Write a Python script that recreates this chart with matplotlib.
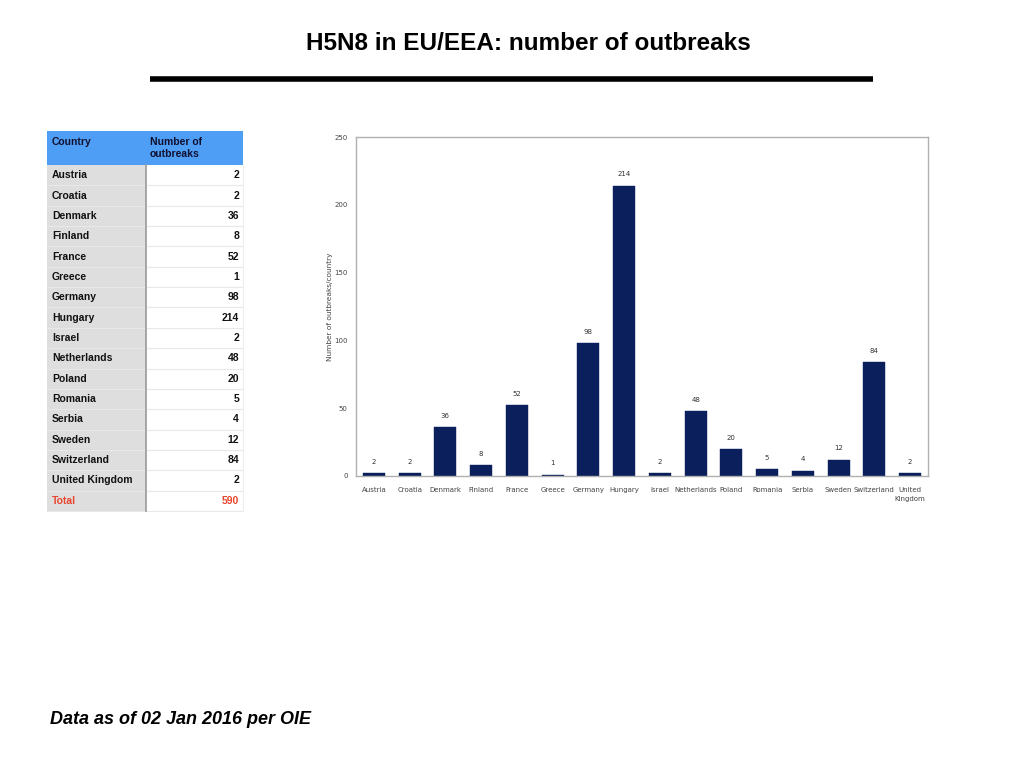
import matplotlib
matplotlib.use("Agg")
import matplotlib.pyplot as plt
from matplotlib.patches import Rectangle

countries = ["Austria", "Croatia", "Denmark", "Finland", "France", "Greece", "Germany",
             "Hungary", "Israel", "Netherlands", "Poland", "Romania", "Serbia", "Sweden",
             "Switzerland", "United Kingdom"]
outbreaks = [2, 2, 36, 8, 52, 1, 98, 214, 2, 48, 20, 5, 4, 12, 84, 2]
chart_labels = ["Austria", "Croatia", "Denmark", "Finland", "France", "Greece", "Germany",
                "Hungary", "Israel", "Netherlands", "Poland", "Romania", "Serbia", "Sweden",
                "Switzerland", "United\nKingdom"]
yticks = [0, 50, 100, 150, 200, 250]

W, H = 1024, 768
fig = plt.figure(figsize=(W / 100, H / 100), dpi=100)
fig.patch.set_facecolor("white")

# overlay axes in pixel coordinates
bg = fig.add_axes([0, 0, 1, 1])
bg.set_xlim(0, W)
bg.set_ylim(H, 0)
bg.axis("off")

font = "Liberation Sans"
bg.text(528, 44, "H5N8 in EU/EEA: number of outbreaks", ha="center", va="center",
        fontsize=17.5, fontweight="bold", family=font)
bg.plot([150, 873], [79, 79], color="black", lw=4, solid_capstyle="butt")
bg.text(50, 720, "Data as of 02 Jan 2016 per OIE", ha="left", va="center",
        fontsize=13, fontweight="bold", style="italic", family=font)

# table
tx0, tx1, tx2 = 47, 146, 243
hy0, hy1 = 131, 165
row_h = (511 - 165) / 17.0
bg.add_patch(Rectangle((tx0, hy0), tx2 - tx0, hy1 - hy0, facecolor="#4f9ef5", edgecolor="none"))
bg.text(52, 142, "Country", ha="left", va="center", fontsize=7.5, fontweight="bold",
        family=font, color="#101030")
bg.text(150, 148, "Number of\noutbreaks", ha="left", va="center", fontsize=7.5,
        fontweight="bold", family=font, color="#101030", linespacing=1.25)

rows = list(zip(countries, [str(v) for v in outbreaks])) + [("Total", str(sum(outbreaks)))]
for i, (name, val) in enumerate(rows):
    y0 = hy1 + i * row_h
    bg.add_patch(Rectangle((tx0, y0), tx1 - tx0, row_h, facecolor="#dedede", edgecolor="none"))
    bg.add_patch(Rectangle((tx1, y0), tx2 - tx1, row_h, facecolor="white", edgecolor="none"))
    bg.plot([tx0, tx2], [y0 + row_h, y0 + row_h], color="#e8e8e8", lw=0.8)
    col = "#e8462e" if name == "Total" else "#111111"
    bg.text(52, y0 + row_h / 2, name, ha="left", va="center", fontsize=7.5,
            fontweight="bold", family=font, color=col)
    bg.text(239, y0 + row_h / 2, val, ha="right", va="center", fontsize=7.5,
            fontweight="bold", family=font, color=col)
bg.plot([tx1, tx1], [hy1, hy1 + 17 * row_h], color="#9a9a9a", lw=1.2)
bg.plot([tx2, tx2], [hy1, hy1 + 17 * row_h], color="#eeeeee", lw=0.8)

# bar chart
ax = fig.add_axes([356 / W, 1 - 476 / H, (928 - 356) / W, (476 - 137) / H])
x = range(len(outbreaks))
bars = ax.bar(x, outbreaks, width=0.62, color="#0b1f5c", edgecolor="#0b1f5c", lw=0.3)
ax.set_xlim(-0.5, len(outbreaks) - 0.5)
ax.set_ylim(0, 250)
ax.set_yticks(yticks)
ax.set_xticks(list(x))
ax.set_xticklabels(chart_labels, fontsize=5, color="#444444", family="DejaVu Sans",
                   linespacing=1.6)
ax.set_yticklabels([str(t) for t in yticks], fontsize=5, color="#444444")
ax.tick_params(axis="both", length=0, pad=8)
ax.tick_params(axis="y", pad=6)
for s in ax.spines.values():
    s.set_color("#b0b0b0")
    s.set_linewidth(1.0)
ax.set_ylabel("Number of outbreaks/country", fontsize=5.3, color="#444444", labelpad=1)
for xi, v in zip(x, outbreaks):
    ax.annotate(str(v), (xi, v), xytext=(0, 6), textcoords="offset points",
                ha="center", va="bottom", fontsize=5, color="#333333")

fig.savefig("out.png", dpi=100)
